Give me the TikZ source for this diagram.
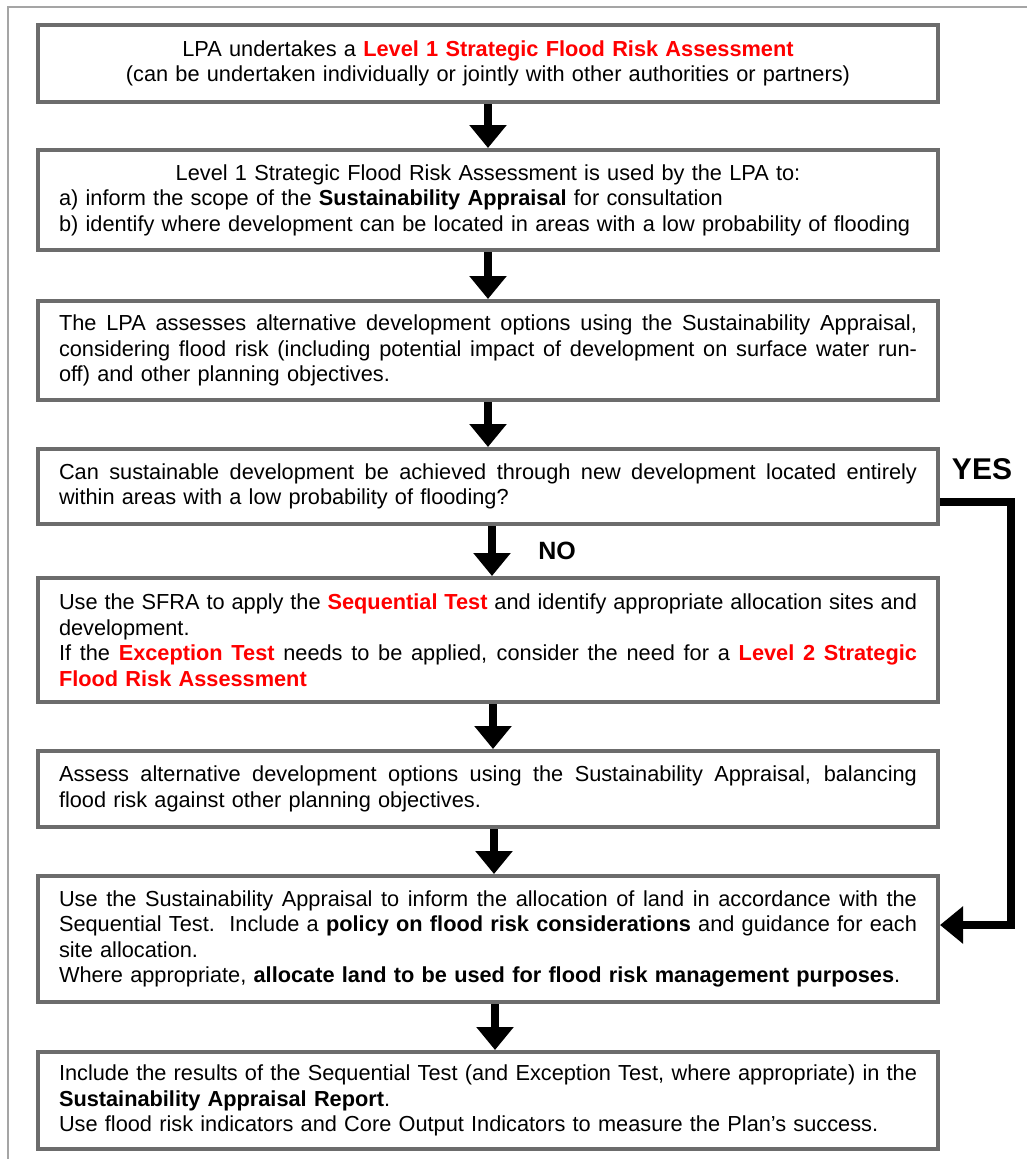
\documentclass[tikz,border=0pt]{standalone}
\usepackage{fontspec}
\setmainfont{Liberation Sans}
\usetikzlibrary{arrows.meta}

\definecolor{boxgrey}{RGB}{108,108,108}
\definecolor{framegrey}{RGB}{165,165,165}
\definecolor{keyred}{RGB}{255,0,0}

\newlength{\stagewd}
\setlength{\stagewd}{858pt}
\newcommand{\keyterm}[1]{\textbf{\color{keyred}#1}}
\newcommand{\fullline}[1]{\makebox[\stagewd][s]{\spaceskip=0.278em plus 1fil\relax #1}}
\newcommand{\midline}[1]{\makebox[\stagewd][c]{#1}}

\begin{document}
\begin{tikzpicture}[x=1pt,y=-1pt,
    stagebox/.style={draw=boxgrey, line width=4pt, fill=white,
      text width=\stagewd, inner xsep=21pt, inner ysep=0pt, align=left,
      font=\fontsize{21.75}{25.5}\selectfont},
    flowarrow/.style={line width=8pt, -{Triangle[width=36pt,length=23pt]}},
    flowlabel/.style={font=\bfseries\fontsize{#1}{#1}\selectfont}]
        \useasboundingbox (0,0) rectangle (1027,1159);

        % Outer frame (open on the right and at the bottom)
        \draw [framegrey, line width=2pt] (1027,7) -- (8,7) -- (8,1159);

        % Level 1 SFRA
        \node [stagebox, align=center, minimum height=77pt] (sfra1) at (488,63.5)
          {LPA undertakes a \keyterm{Level 1 Strategic Flood Risk Assessment}\\
           (can be undertaken individually or jointly with other authorities or partners)};

        % Use of the Level 1 SFRA
        \node [stagebox, minimum height=100pt] (useone) at (488,200)
          {\midline{Level 1 Strategic Flood Risk Assessment is used by the LPA to:}\\
           a) inform the scope of the \textbf{Sustainability Appraisal} for consultation\\
           b) identify where development can be located in areas with a low probability of flooding};

        % Alternative options
        \node [stagebox, minimum height=99pt] (options) at (488,350.5)
          {\fullline{The LPA assesses alternative development options using the Sustainability Appraisal,}\\
           \fullline{considering flood risk (including potential impact of development on surface water run-}\\
           off) and other planning objectives.};

        % Question
        \node [stagebox, minimum height=75pt] (question) at (488,486.5)
          {\fullline{Can sustainable development be achieved through new development located entirely}\\
           within areas with a low probability of flooding?};

        % Sequential test
        \node [stagebox, minimum height=124pt] (seqtest) at (488,640)
          {\fullline{Use the SFRA to apply the \keyterm{Sequential Test} and identify appropriate allocation sites and}\\
           development.\\
           \fullline{If the \keyterm{Exception Test} needs to be applied, consider the need for a \keyterm{Level 2 Strategic}}\\
           \keyterm{Flood Risk Assessment}};

        % Balancing
        \node [stagebox, minimum height=76pt] (balance) at (488,789)
          {\fullline{Assess alternative development options using the Sustainability Appraisal, balancing}\\
           flood risk against other planning objectives.};

        % Allocation
        \node [stagebox, minimum height=126pt] (allocate) at (488,939)
          {\fullline{Use the Sustainability Appraisal to inform the allocation of land in accordance with the}\\
           \fullline{Sequential Test.\ \ Include a \textbf{policy on flood risk considerations} and guidance for each}\\
           site allocation.\\
           Where appropriate, \textbf{allocate land to be used for flood risk management purposes}.};

        % Report
        \node [stagebox, minimum height=97pt] (report) at (488,1100.5)
          {\fullline{Include the results of the Sequential Test (and Exception Test, where appropriate) in the}\\
           \textbf{Sustainability Appraisal Report}.\\
           Use flood risk indicators and Core Output Indicators to measure the Plan’s success.};

        % Main flow
        \draw [flowarrow] (sfra1) -- (useone);
        \draw [flowarrow] (useone) -- (options);
        \draw [flowarrow] (options) -- (question);
        \draw [flowarrow] ([xshift=4pt]question.south) -- ([xshift=4pt]seqtest.north);
        \draw [flowarrow] ([xshift=5pt]seqtest.south) -- ([xshift=5pt]balance.north);
        \draw [flowarrow] ([xshift=6pt]balance.south) -- ([xshift=6pt]allocate.north);
        \draw [flowarrow] ([xshift=7pt]allocate.south) -- ([xshift=7pt]report.north);

        % Answers
        \node [flowlabel=25] (no) at (557,551) {NO};
        \node [flowlabel=30] (yes) at (982,469) {YES};
        \draw [flowarrow] ([yshift=-15pt]question.east) -- ++(71pt,0) |- ([yshift=14pt]allocate.east);
\end{tikzpicture}
\end{document}
